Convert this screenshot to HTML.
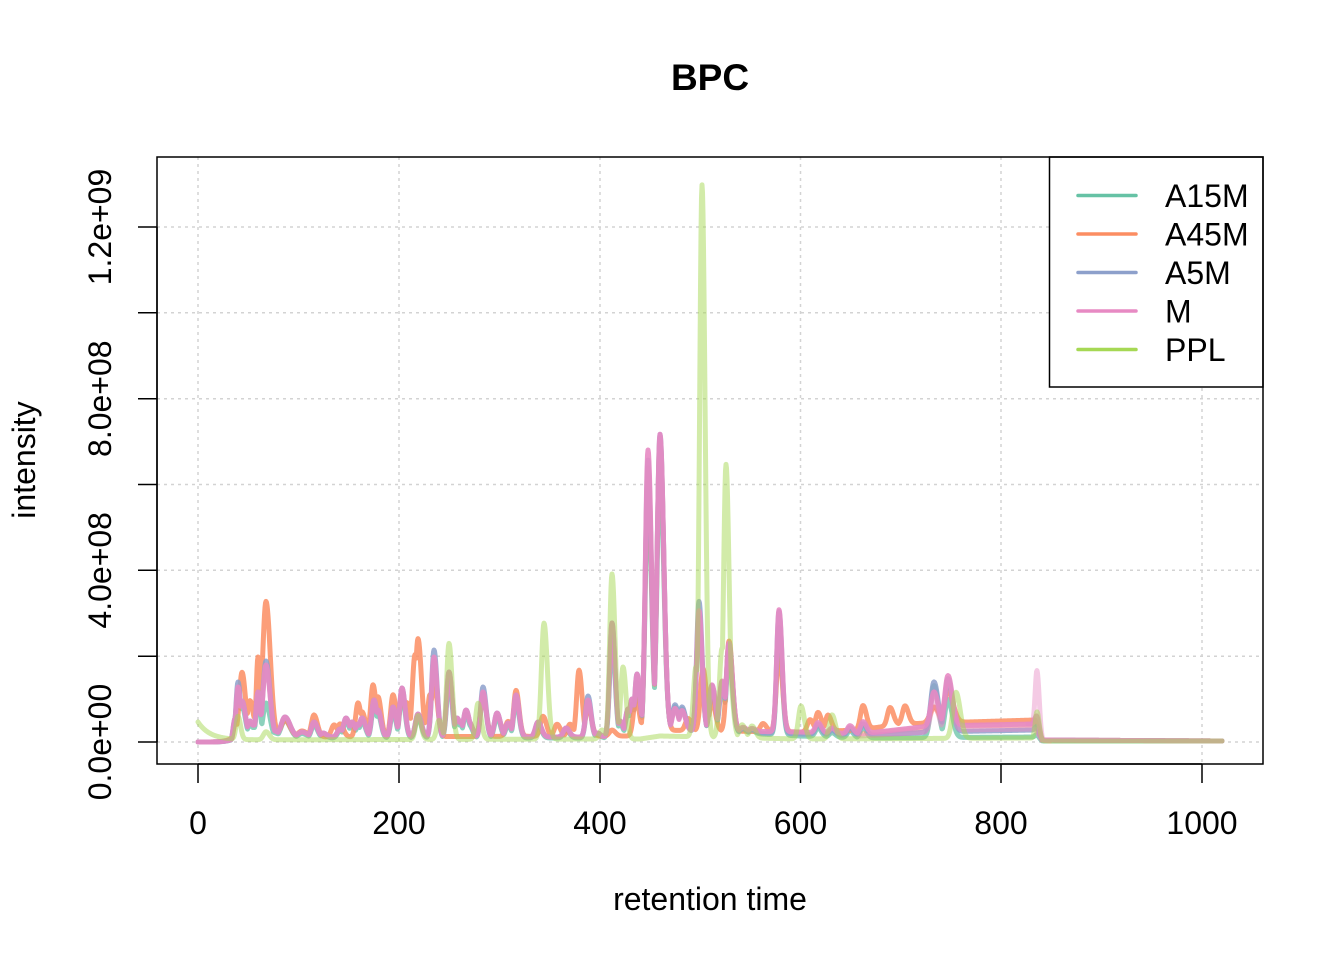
<!DOCTYPE html>
<html>
<head>
<meta charset="utf-8">
<style>
html,body{margin:0;padding:0;background:#fff;}
svg{display:block;}
text{font-family:"Liberation Sans",Arial,sans-serif;fill:#000;}
</style>
</head>
<body>
<svg id="chart" width="1344" height="960" viewBox="0 0 1344 960" xmlns="http://www.w3.org/2000/svg">
<rect x="0" y="0" width="1344" height="960" fill="#fff"/>
<defs>
<clipPath id="pc"><rect x="157" y="157" width="1106" height="607"/></clipPath>
</defs>
<g stroke="#D3D3D3" stroke-width="1.5" stroke-dasharray="3,4" fill="none">
<line x1="198" y1="157" x2="198" y2="764"/>
<line x1="399" y1="157" x2="399" y2="764"/>
<line x1="600" y1="157" x2="600" y2="764"/>
<line x1="800.5" y1="157" x2="800.5" y2="764"/>
<line x1="1001" y1="157" x2="1001" y2="764"/>
<line x1="1202" y1="157" x2="1202" y2="764"/>
<line x1="157" y1="742" x2="1263" y2="742"/>
<line x1="157" y1="656.2" x2="1263" y2="656.2"/>
<line x1="157" y1="570.3" x2="1263" y2="570.3"/>
<line x1="157" y1="484.5" x2="1263" y2="484.5"/>
<line x1="157" y1="398.7" x2="1263" y2="398.7"/>
<line x1="157" y1="312.8" x2="1263" y2="312.8"/>
<line x1="157" y1="227" x2="1263" y2="227"/>
</g>
<g clip-path="url(#pc)" fill="none" stroke-width="5" stroke-linejoin="round" stroke-linecap="round">
<path id="sTeal" stroke="#66C2A5" stroke-opacity="0.75"/>
<path id="sOrange2" stroke="#FC8D62" stroke-opacity="0.5"/>
<path id="sOrange" stroke="#FC8D62" stroke-opacity="0.85"/>
<path id="sBlue" stroke="#8DA0CB" stroke-opacity="0.85"/>
<path id="sPinkL" stroke="#E78AC3" stroke-opacity="0.45"/>
<path id="sPink2" stroke="#E78AC3" stroke-opacity="0.5"/>
<path id="sPink" stroke="#E78AC3" stroke-opacity="0.9"/>
<path id="sGreen" stroke="#A6D854" stroke-opacity="0.5"/>
</g>
<rect x="1049.5" y="157" width="213.5" height="230" fill="#fff" stroke="#000" stroke-width="1.5"/>
<g stroke-width="3.5" stroke-linecap="round">
<line x1="1078" y1="195.5" x2="1136" y2="195.5" stroke="#66C2A5"/>
<line x1="1078" y1="234" x2="1136" y2="234" stroke="#FC8D62"/>
<line x1="1078" y1="272.5" x2="1136" y2="272.5" stroke="#8DA0CB"/>
<line x1="1078" y1="311" x2="1136" y2="311" stroke="#E78AC3"/>
<line x1="1078" y1="349.5" x2="1136" y2="349.5" stroke="#A6D854"/>
</g>
<g font-size="32">
<text x="1165" y="207">A15M</text>
<text x="1165" y="245.5">A45M</text>
<text x="1165" y="284">A5M</text>
<text x="1165" y="322.5">M</text>
<text x="1165" y="361">PPL</text>
</g>
<rect x="157" y="157" width="1106" height="607" fill="none" stroke="#000" stroke-width="1.5"/>
<g stroke="#000" stroke-width="1.5">
<line x1="198" y1="764" x2="1202" y2="764"/>
<line x1="198" y1="764" x2="198" y2="783"/>
<line x1="399" y1="764" x2="399" y2="783"/>
<line x1="600" y1="764" x2="600" y2="783"/>
<line x1="800.5" y1="764" x2="800.5" y2="783"/>
<line x1="1001" y1="764" x2="1001" y2="783"/>
<line x1="1202" y1="764" x2="1202" y2="783"/>
<line x1="157" y1="227" x2="157" y2="742"/>
<line x1="138" y1="742" x2="157" y2="742"/>
<line x1="138" y1="656.2" x2="157" y2="656.2"/>
<line x1="138" y1="570.3" x2="157" y2="570.3"/>
<line x1="138" y1="484.5" x2="157" y2="484.5"/>
<line x1="138" y1="398.7" x2="157" y2="398.7"/>
<line x1="138" y1="312.8" x2="157" y2="312.8"/>
<line x1="138" y1="227" x2="157" y2="227"/>
</g>
<g font-size="32" text-anchor="middle">
<text x="198" y="834">0</text>
<text x="399" y="834">200</text>
<text x="600" y="834">400</text>
<text x="800.5" y="834">600</text>
<text x="1001" y="834">800</text>
<text x="1202" y="834">1000</text>
</g>
<g font-size="32" text-anchor="middle">
<text transform="translate(111,742) rotate(-90)">0.0e+00</text>
<text transform="translate(111,570.3) rotate(-90)">4.0e+08</text>
<text transform="translate(111,398.7) rotate(-90)">8.0e+08</text>
<text transform="translate(111,227) rotate(-90)">1.2e+09</text>
</g>
<text x="710" y="910" font-size="32" text-anchor="middle">retention time</text>
<text transform="translate(35,460) rotate(-90)" font-size="32" text-anchor="middle">intensity</text>
<text x="710" y="90" font-size="37" font-weight="bold" text-anchor="middle">BPC</text>
</svg>
<script>
(function(){
var WM=1.3;
function interp(pts,x){
  if(x<=pts[0][0]) return pts[0][1];
  for(var i=1;i<pts.length;i++){
    if(x<=pts[i][0]){
      var a=pts[i-1],b=pts[i];
      return a[1]+(b[1]-a[1])*(x-a[0])/(b[0]-a[0]);
    }
  }
  return pts[pts.length-1][1];
}
function build(peaks,base,x0,x1,extra){
  var d='';
  for(var x=x0;x<=x1+0.001;x+=0.5){
    var h=interp(base,x);
    var m=0;
    for(var k=0;k<peaks.length;k++){
      var c=peaks[k][0],a=peaks[k][1],s=peaks[k][2]*WM;
      var dx=x-c; var ss=dx<0?s:s*1.3;
      if(Math.abs(dx)<ss*6){var v=a*Math.exp(-0.5*dx*dx/(ss*ss)); if(v>m)m=v;}
    }
    h+=m;
    if(extra) h+=extra(x);
    var y=742-h;
    d+=(d===''?'M':'L')+x.toFixed(1)+','+y.toFixed(2);
  }
  return d;
}
var pink=[[235,20,1.5],[238,50,1.5],[242,36,2],[250,16,2],[258,45,1.5],[266,72,2.3],[285,20,3],[302,5,3],[314,15,2],[323,4,2],[340,8,2],[346,19,2],[352,15,2],[358,13,2],[362,19,2],[374,37,1.8],[378,27,1.8],[393,30,1.8],[402,49,1.8],[418,23,2],[434,80,1.8],[449,65,1.8],[457,19,2],[460,15,2],[466,27,2],[469,15,2],[483,45,1.8],[497,24,2],[508,14,2],[516,42,1.8],[538,15,2],[566,9,2],[588,37,1.8],[597,4,2],[612,114,1.8],[620,16,2],[628,28,2],[632,38,2],[637,63,1.8],[648,280,2],[660,296,2.2],[675,22,2],[682,20,2],[699,120,1.8],[712,46,2],[722,50,2],[729,88,2],[743,4,2],[752,3,2],[779,122,1.8],[818,10,2],[832,5,2],[850,8,2],[863,12,2],[934,34,2.5],[948,50,2.5],[1037,12,1.3],[255,12,10]];
var pinkBase=[[198,0],[232,0],[236,5],[640,5],[645,12],[800,10],[860,8],[930,16],[1035,18],[1042,2],[1222,1]];
function copyOv(src,ov,mul){
  var out=[];
  for(var i=0;i<src.length;i++){
    var p=src[i].slice(); if(mul) p[1]*=mul;
    if(ov[p[0]]!==undefined) p[1]=ov[p[0]];
    out.push(p);
  }
  return out;
}
var blue=copyOv(pink,{238:55,266:76,434:87,483:50,588:41,648:270,660:296,699:130,934:50,948:53,675:26,682:24,1037:6});
var blueBase=[[198,0],[232,0],[236,5],[640,5],[645,12],[800,8],[860,6],[930,10],[1035,12],[1042,2],[1222,1]];
var teal=copyOv(blue,{266:35,934:52,948:38,1037:3},0.88);
var tealBase=[[198,0],[232,0],[236,4],[640,4],[645,14],[800,6],[860,4],[1035,5],[1042,1],[1222,1]];
var orange=[[235,12,1.5],[242,62,2],[250,34,2],[258,78,1.3],[266,134,2.5],[285,16,3],[302,6,3],[314,22,2],[334,12,2],[340,13,2],[358,34,1.8],[362,25,2],[373,52,1.8],[378,40,1.8],[393,42,1.8],[402,46,1.8],[407,34,1.8],[415,82,2],[418,98,2],[426,15,2],[430,42,1.8],[434,55,2],[483,40,2],[508,15,2],[516,46,1.8],[543,20,2],[557,12,2],[570,12,2],[579,66,1.8],[588,30,2],[612,6,2],[636,38,2],[648,262,2],[660,292,2.2],[688,12,2],[703,62,2],[712,30,2],[729,90,2],[763,8,2],[779,80,2],[810,12,2],[818,19,2],[828,16,2],[863,24,2],[890,18,2],[905,18,2],[934,16,3],[948,32,3],[255,18,10]];
var orangeBase=[[198,0],[232,0],[236,8],[300,5],[640,6],[645,12],[800,10],[860,12],[900,18],[1035,22],[1042,2],[1222,1]];
var green=[[238,23,1.5],[266,8,2],[418,24,1.8],[439,19,1.8],[449,96,1.8],[478,36,1.8],[544,116,2],[602,9,2],[612,165,1.8],[623,72,1.8],[696,70,2],[702,552,1.8],[722,89,2],[726,273,1.8],[729,70,2],[742,13,2],[752,12,2],[801,33,2],[832,24,2],[956,46,2.5],[1037,27,1.3]];
var greenBase=[[198,2],[600,3],[640,3],[660,6],[800,3],[1035,4],[1042,1],[1222,1]];
function greenExtra(x){return 18*Math.exp(-(x-198)/12);}
function set(id,d){document.getElementById(id).setAttribute('d',d);}
set('sTeal',build(teal,tealBase,198,1222));
set('sOrange2',build([[934,20,3],[948,36,3]],[[860,8],[930,14],[960,16],[1035,17],[1042,2],[1050,1]],860,1050));
set('sOrange',build(orange,orangeBase,198,1222));
set('sBlue',build(blue,blueBase,198,1222));
set('sPinkL',build([[1037,58,1.3]],[[1000,18],[1035,18],[1042,2],[1222,1]],1028,1048));
set('sPink2',build([[934,30,2.5],[948,45,2.5]],[[860,6],[930,10],[960,12],[1035,13],[1042,2],[1050,1]],860,1050));
set('sPink',build(pink,pinkBase,198,1222));
set('sGreen',build(green,greenBase,198,1222,greenExtra));
})();
</script>
</body>
</html>
